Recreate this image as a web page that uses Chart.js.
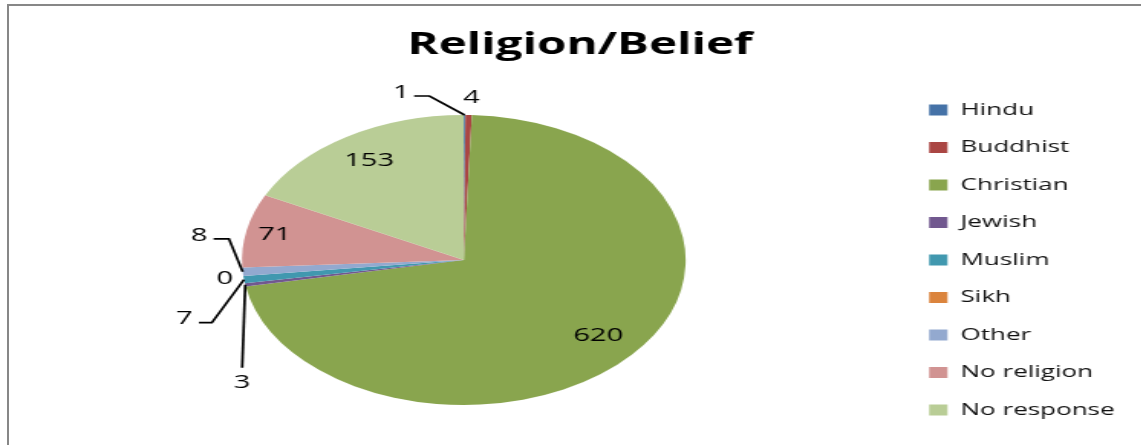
<!DOCTYPE html>
<html>
<head>
<meta charset="utf-8">
<script src="https://cdn.jsdelivr.net/npm/chart.js@4.4.1/dist/chart.umd.min.js"></script>
<style>
  body { margin: 0; background: #fff; overflow: hidden; }
  #frame {
    position: absolute; left: 7px; top: 4px; width: 1132px; height: 460px;
    border-top: 2px solid #878787; border-left: 2px solid #878787;
  }
  #stretch {
    position: absolute; left: 0; top: 0; width: 749px; height: 445px;
    transform: scaleX(1.53); transform-origin: 0 0;
  }
</style>
</head>
<body>
<div id="frame"></div>
<div id="stretch"><canvas id="myChart"></canvas></div>
<script>
// religion / belief counts
var categories = ['Hindu', 'Buddhist', 'Christian', 'Jewish', 'Muslim', 'Sikh', 'Other', 'No religion', 'No response'];
var counts = [1, 4, 620, 3, 7, 0, 8, 71, 153];
var sliceColors = ['#4572A7', '#AA4643', '#89A54E', '#71588F', '#4198AF', '#DB843D', '#93A9CF', '#D19392', '#B9CD96'];

// where each data label goes, relative to its slice
var labelPlacement = [
  { elbow: [-23, -19], tail: -10, text: [-3, -3], align: 'right' },
  { text: [2, -17], align: 'center' },
  { inside: 0.8 },
  { elbow: [-2, 83], tail: 0, text: [0, 15], align: 'center' },
  { elbow: [-21, 43], tail: -8.5, text: [-4, -4], align: 'right' },
  { text: [-12, 3], align: 'center' },
  { elbow: [-9, -33], tail: -10, text: [-4, -3], align: 'right' },
  { inside: 0.87 },
  { inside: 0.81 }
];

var dataLabels = {
  id: 'dataLabels',
  afterDatasetsDraw: function(chart) {
    var ctx = chart.ctx;
    var meta = chart.getDatasetMeta(0);
    ctx.save();
    ctx.font = '19px "Open Sans"';
    ctx.fillStyle = '#000';
    ctx.strokeStyle = '#000';
    ctx.lineWidth = 1.7;
    ctx.textBaseline = 'middle';
    meta.data.forEach(function(arc, i) {
      var p = arc.getProps(['x', 'y', 'startAngle', 'endAngle', 'outerRadius'], true);
      var mid = (p.startAngle + p.endAngle) / 2;
      var place = labelPlacement[i];
      var txt = String(counts[i]);
      if (place.inside) {
        ctx.textAlign = 'center';
        ctx.fillText(txt, p.x + Math.cos(mid) * p.outerRadius * place.inside,
                          p.y + Math.sin(mid) * p.outerRadius * place.inside);
        return;
      }
      var ax = p.x + Math.cos(mid) * p.outerRadius;
      var ay = p.y + Math.sin(mid) * p.outerRadius;
      var ex = ax, ey = ay;
      if (place.elbow) {
        ex = ax + place.elbow[0];
        ey = ay + place.elbow[1];
        ctx.beginPath();
        ctx.moveTo(ax, ay);
        ctx.lineTo(ex, ey);
        ctx.lineTo(ex + place.tail, ey);
        ctx.stroke();
        ex += place.tail;
      }
      ctx.textAlign = place.align;
      ctx.fillText(txt, ex + place.text[0], ey + place.text[1]);
    });
    ctx.restore();
  }
};

Chart.defaults.font.family = "'Open Sans', sans-serif";

var ctx = document.getElementById('myChart').getContext('2d');
var chart = new Chart(ctx, {
  type: 'pie',
  data: {
    labels: categories,
    datasets: [{
      data: counts,
      backgroundColor: sliceColors,
      borderWidth: 0,
      radius: 145
    }]
  },
  options: {
    responsive: true,
    maintainAspectRatio: false,
    animation: false,
    layout: { padding: { left: 19.5, right: 10.5, top: 0, bottom: 6 } },
    plugins: {
      title: {
        display: true,
        text: 'Religion/Belief',
        color: '#000',
        font: { size: 31, weight: 'bold' },
        padding: { top: 27, bottom: 16.8 }
      },
      legend: {
        position: 'right',
        align: 'end',
        labels: {
          color: '#111',
          font: { size: 17 },
          boxWidth: 12,
          boxHeight: 11,
          padding: 20.5
        }
      },
      tooltip: { enabled: false }
    }
  },
  plugins: [dataLabels]
});
</script>
</body>
</html>
